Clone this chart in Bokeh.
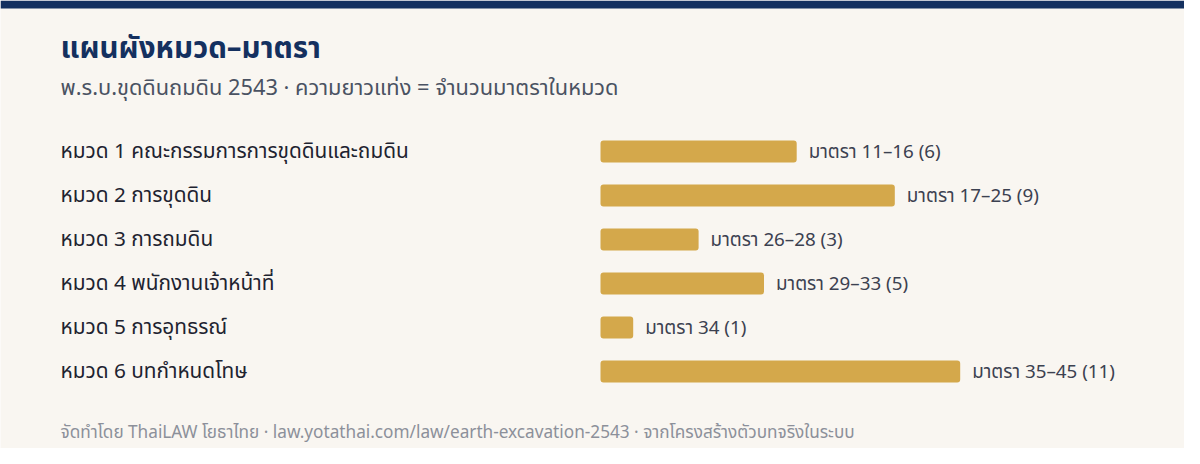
from bokeh.plotting import figure
from bokeh.models import Range1d, Label, ColumnDataSource
from bokeh.core.properties import value
from bokeh.embed import file_html
from bokeh.resources import INLINE

chapters = [
    "หมวด 1 คณะกรรมการการขุดดินและถมดิน",
    "หมวด 2 การขุดดิน",
    "หมวด 3 การถมดิน",
    "หมวด 4 พนักงานเจ้าหน้าที่",
    "หมวด 5 การอุทธรณ์",
    "หมวด 6 บทกำหนดโทษ",
]
section_ranges = ["11–16", "17–25", "26–28", "29–33", "34", "35–45"]
section_counts = [6, 9, 3, 5, 1, 11]

TITLE = "แผนผังหมวด–มาตรา"
SUBTITLE = "พ.ร.บ.ขุดดินถมดิน 2543 · ความยาวแท่ง = จำนวนมาตราในหมวด"
FOOTER = "จัดทำโดย ThaiLAW โยธาไทย · law.yotathai.com/law/earth-excavation-2543 · จากโครงสร้างตัวบทจริงในระบบ"

FONT = "Noto Sans Thai"
W, H = 1184, 448
PX_X = 32.7      # px per section
BAR_X0 = 600     # px where bars start
ROW0 = 151       # px centre of first row
ROW_H = 44       # px per row

idx = list(range(len(chapters)))
val_labels = [f"มาตรา {r} ({c})" for r, c in zip(section_ranges, section_counts)]
src = ColumnDataSource(dict(y=idx, count=section_counts, chapter=chapters,
                            vlabel=val_labels, zero=[0] * len(idx)))

p = figure(width=W, height=H, output_backend="svg", toolbar_location=None,
           x_range=Range1d(-BAR_X0 / PX_X, (W - BAR_X0) / PX_X),
           y_range=Range1d((H - ROW0) / ROW_H, -ROW0 / ROW_H),
           min_border=0, outline_line_color=None,
           background_fill_color="#F9F6F1", border_fill_color="#F9F6F1")
p.axis.visible = False
p.grid.visible = False

# top navy band (8 px)
p.quad(left=[p.x_range.start], right=[p.x_range.end],
       top=[-ROW0 / ROW_H], bottom=[-(ROW0 - 8) / ROW_H],
       fill_color="#14305F", line_color=None)

p.hbar(y="y", left=0, right="count", height=0.5, source=src,
       fill_color="#D4A84B", line_color=None, border_radius=3)

p.text(x="zero", y="y", text="chapter", source=src, x_offset=-(BAR_X0 - 60),
       text_font=value(FONT), text_font_size="20.8px", text_color="#1E2330",
       text_baseline="middle", text_align="left")
p.text(x="count", y="y", text="vlabel", source=src, x_offset=12,
       text_font=value(FONT), text_font_size="18.8px", text_color="#3C4150",
       text_baseline="middle", text_align="left")

p.add_layout(Label(x=60, y=H - 48, x_units="screen", y_units="screen", text=TITLE,
                   text_font=FONT, text_font_size="29.5px", text_font_style="bold",
                   text_color="#14305F", text_baseline="middle"))
p.add_layout(Label(x=60, y=H - 88, x_units="screen", y_units="screen", text=SUBTITLE,
                   text_font=FONT, text_font_size="21.8px",
                   text_color="#4A5262", text_baseline="middle"))
p.add_layout(Label(x=60, y=H - 432, x_units="screen", y_units="screen", text=FOOTER,
                   text_font=FONT, text_font_size="17.2px",
                   text_color="#8C909A", text_baseline="middle"))

open("out.html", "w").write(file_html(p, INLINE))
